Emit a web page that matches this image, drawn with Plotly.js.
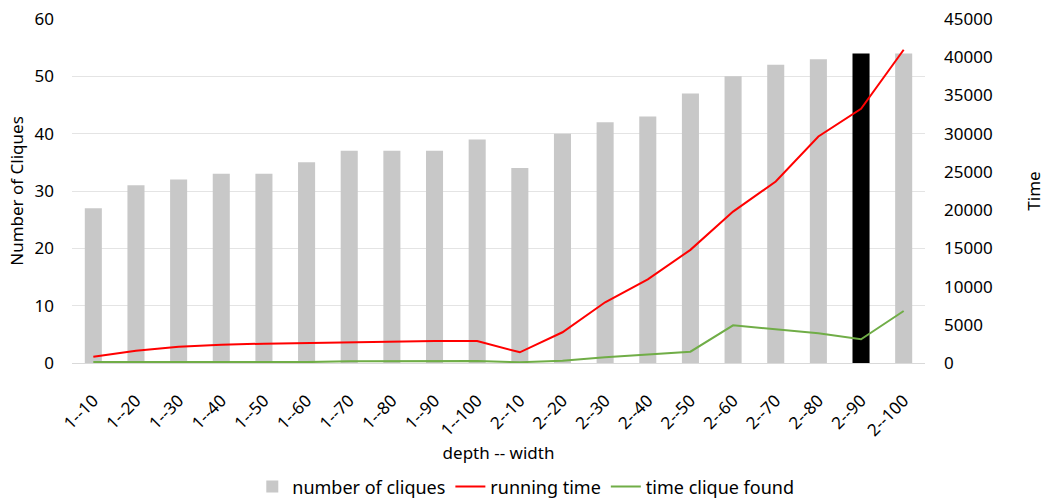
<!DOCTYPE html>
<html>
<head>
<meta charset="utf-8">
<script src="https://cdn.plot.ly/plotly-3.0.1.min.js"></script>
<style>html,body{margin:0;padding:0;background:#fff;}#chart{width:1048px;height:502px;}</style>
</head>
<body>
<div id="chart"></div>
<script>
const categories = ["1--10","1--20","1--30","1--40","1--50","1--60","1--70","1--80","1--90","1--100",
                    "2--10","2--20","2--30","2--40","2--50","2--60","2--70","2--80","2--90","2--100"];
const numberOfCliques = [27,31,32,33,33,35,37,37,37,39,34,40,42,43,47,50,52,53,54,54];
const runningTime = [820,1610,2130,2400,2530,2620,2620,2790,2880,2880,1400,4020,7940,10950,14800,19810,23740,29630,33250,40980];
const timeCliqueFound = [120,120,120,120,120,120,220,250,250,250,100,300,740,1140,1480,4930,4410,3890,3100,6800];
const highlighted = "2--90";

const barColors = categories.map(c => c === highlighted ? "#000000" : "#c8c8c8");
const fontFam = "Noto Sans, Open Sans, sans-serif";

const traces = [
  {type:"bar", name:"number of cliques", x:categories, y:numberOfCliques,
   marker:{color:barColors}, yaxis:"y"},
  {type:"scatter", mode:"lines", name:"running time", x:categories, y:runningTime,
   line:{color:"#ff0000", width:2}, yaxis:"y2"},
  {type:"scatter", mode:"lines", name:"time clique found", x:categories, y:timeCliqueFound,
   line:{color:"#70ad47", width:2}, yaxis:"y2"}
];

const layout = {
  width:1048, height:502,
  margin:{l:72, r:123, t:19, b:139, autoexpand:false},
  paper_bgcolor:"#fff", plot_bgcolor:"#fff",
  font:{family:fontFam, size:17, color:"#000"},
  bargap:0.6,
  showlegend:true,
  legend:{orientation:"h", x:0.532, xanchor:"center", y:-0.36, yanchor:"middle",
          font:{size:18, family:fontFam}, traceorder:"normal", itemwidth:30},
  xaxis:{type:"category", tickangle:-45, showgrid:false, zeroline:false, automargin:false,
         showline:true, linecolor:"#d9d9d9", ticks:"", ticklabelstandoff:20,
         tickfont:{size:17, family:fontFam},
         title:{text:"depth -- width", font:{size:17, family:fontFam}, standoff:0}},
  yaxis:{range:[0,60], dtick:10, showgrid:true, gridcolor:"#e4e4e4", zeroline:false, automargin:false,
         ticks:"", tickfont:{size:17}, ticklabelstandoff:17,
         title:{text:"Number of Cliques", font:{size:17}, standoff:6}},
  yaxis2:{range:[0,45000], dtick:5000, overlaying:"y", side:"right", showgrid:false, automargin:false,
          zeroline:false, ticks:"", tickfont:{size:17}, tickformat:"d", ticklabelstandoff:18,
          title:{text:"Time", font:{size:17}, standoff:36}}
};

Plotly.newPlot("chart", traces, layout, {displayModeBar:false, staticPlot:true});
</script>
</body>
</html>
